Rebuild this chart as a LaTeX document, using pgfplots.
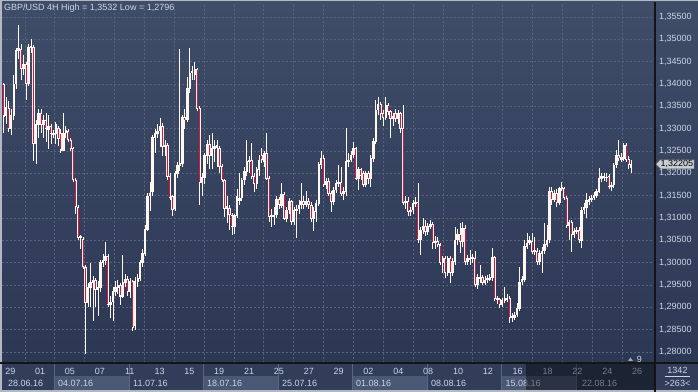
\documentclass[border=0pt]{standalone}
\usepackage{pgfplots}
\usepackage{pgfplotstable}
\pgfplotsset{compat=1.18}
\usepackage{fontspec}
\setmainfont{Liberation Sans}
\definecolor{bgtop}{HTML}{3F4D69}
\definecolor{bgbot}{HTML}{2C3754}
\definecolor{gridc}{HTML}{56637E}
\definecolor{txt}{HTML}{CBD5E6}
\definecolor{strip}{HTML}{313D59}
\definecolor{boxlight}{HTML}{4A5775}
\definecolor{sep}{HTML}{5A6682}
\definecolor{framec}{HTML}{B2B8C4}
\definecolor{bear}{HTML}{E3123D}
\definecolor{bull}{HTML}{FFF8F0}
\definecolor{pricebox}{HTML}{C9CDD4}
\newcommand\mtfont{\fontsize{9bp}{10.8bp}\selectfont}

\pgfplotstableread{
i O H L C
0 1.3400 1.3403 1.3290 1.3328
1 1.3330 1.3372 1.3310 1.3348
2 1.3345 1.3362 1.3292 1.3300
3 1.3300 1.3345 1.3285 1.3330
4 1.3330 1.3420 1.3320 1.3400
5 1.3400 1.3480 1.3390 1.3475
6 1.3475 1.3532 1.3455 1.3480
7 1.3478 1.3490 1.3410 1.3435
8 1.3435 1.3465 1.3420 1.3445
9 1.3445 1.3450 1.3365 1.3400
10 1.3400 1.3490 1.3395 1.3483
11 1.3483 1.3500 1.3470 1.3485
12 1.3483 1.3488 1.3227 1.3267
13 1.3267 1.3320 1.3220 1.3310
14 1.3310 1.3345 1.3280 1.3335
15 1.3335 1.3345 1.3290 1.3310
16 1.3310 1.3330 1.3280 1.3318
17 1.3318 1.3335 1.3270 1.3300
18 1.3298 1.3330 1.3255 1.3305
19 1.3305 1.3310 1.3265 1.3288
20 1.3288 1.3298 1.3278 1.3290
21 1.3288 1.3315 1.3265 1.3310
22 1.3300 1.3305 1.3262 1.3278
23 1.3290 1.3300 1.3245 1.3252
24 1.3252 1.3335 1.3250 1.3290
25 1.3290 1.3305 1.3280 1.3296
26 1.3294 1.3300 1.3270 1.3275
27 1.3275 1.3280 1.3250 1.3255
28 1.3255 1.3260 1.3180 1.3185
29 1.3185 1.3190 1.3110 1.3125
30 1.3125 1.3130 1.3050 1.3055
31 1.3055 1.3062 1.3030 1.3058
32 1.3052 1.3058 1.2985 1.2990
33 1.2990 1.2995 1.2796 1.2910
34 1.2910 1.2955 1.2900 1.2945
35 1.2945 1.3000 1.2900 1.2955
36 1.2955 1.2970 1.2870 1.2960
37 1.2960 1.2965 1.2900 1.2940
38 1.2940 1.2960 1.2880 1.2945
39 1.2945 1.3005 1.2935 1.3000
40 1.3000 1.3020 1.2990 1.3005
41 1.3005 1.3047 1.2995 1.3015
42 1.3015 1.3020 1.2900 1.2905
43 1.2905 1.2925 1.2875 1.2912
44 1.2912 1.2945 1.2870 1.2935
45 1.2935 1.2960 1.2925 1.2945
46 1.2945 1.2962 1.2930 1.2950
47 1.2950 1.2955 1.2905 1.2925
48 1.2925 1.3017 1.2920 1.2955
49 1.2955 1.2975 1.2945 1.2962
50 1.2962 1.2970 1.2925 1.2935
51 1.2935 1.2965 1.2920 1.2958
52 1.2958 1.2962 1.2848 1.2855
53 1.2860 1.2968 1.2850 1.2958
54 1.2958 1.2975 1.2945 1.2965
55 1.2965 1.3005 1.2960 1.3000
56 1.3000 1.3030 1.2990 1.3020
57 1.3020 1.3085 1.3015 1.3075
58 1.3075 1.3155 1.3070 1.3148
59 1.3150 1.3180 1.3115 1.3155
60 1.3160 1.3285 1.3150 1.3280
61 1.3280 1.3300 1.3245 1.3290
62 1.3290 1.3310 1.3280 1.3295
63 1.3295 1.3325 1.3260 1.3305
64 1.3305 1.3312 1.3240 1.3260
65 1.3260 1.3275 1.3240 1.3262
66 1.3262 1.3268 1.3185 1.3193
67 1.3193 1.3200 1.3140 1.3146
68 1.3148 1.3152 1.3105 1.3119
69 1.3120 1.3205 1.3115 1.3200
70 1.3200 1.3225 1.3190 1.3218
71 1.3218 1.3478 1.3205 1.3222
72 1.3222 1.3330 1.3215 1.3325
73 1.3325 1.3345 1.3300 1.3320
74 1.3320 1.3415 1.3315 1.3390
75 1.3390 1.3480 1.3380 1.3425
76 1.3425 1.3440 1.3410 1.3428
77 1.3420 1.3450 1.3410 1.3432
78 1.3432 1.3435 1.3340 1.3345
79 1.3345 1.3350 1.3129 1.3180
80 1.3180 1.3200 1.3150 1.3190
81 1.3190 1.3245 1.3175 1.3240
82 1.3240 1.3275 1.3220 1.3265
83 1.3265 1.3285 1.3210 1.3240
84 1.3240 1.3290 1.3210 1.3255
85 1.3255 1.3275 1.3225 1.3260
86 1.3258 1.3275 1.3215 1.3262
87 1.3255 1.3262 1.3200 1.3215
88 1.3215 1.3220 1.3180 1.3185
89 1.3185 1.3188 1.3103 1.3122
90 1.3122 1.3150 1.3088 1.3125
91 1.3122 1.3130 1.3073 1.3107
92 1.3107 1.3112 1.3062 1.3081
93 1.3081 1.3110 1.3065 1.3105
94 1.3105 1.3166 1.3100 1.3148
95 1.3140 1.3200 1.3130 1.3145
96 1.3145 1.3190 1.3138 1.3185
97 1.3185 1.3215 1.3175 1.3204
98 1.3204 1.3275 1.3195 1.3226
99 1.3226 1.3240 1.3200 1.3230
100 1.3230 1.3268 1.3188 1.3193
101 1.3193 1.3200 1.3159 1.3178
102 1.3178 1.3215 1.3165 1.3208
103 1.3208 1.3240 1.3195 1.3230
104 1.3241 1.3256 1.3222 1.3230
105 1.3226 1.3250 1.3215 1.3245
106 1.3245 1.3290 1.3185 1.3189
107 1.3189 1.3195 1.3092 1.3103
108 1.3103 1.3120 1.3080 1.3107
109 1.3103 1.3125 1.3085 1.3107
110 1.3107 1.3150 1.3100 1.3141
111 1.3141 1.3148 1.3120 1.3130
112 1.3128 1.3178 1.3122 1.3152
113 1.3152 1.3158 1.3095 1.3099
114 1.3099 1.3125 1.3090 1.3118
115 1.3118 1.3145 1.3110 1.3137
116 1.3137 1.3140 1.3085 1.3092
117 1.3092 1.3125 1.3085 1.3118
118 1.3118 1.3130 1.3055 1.3120
119 1.3120 1.3140 1.3110 1.3129
120 1.3129 1.3178 1.3120 1.3137
121 1.3137 1.3150 1.3120 1.3130
122 1.3130 1.3160 1.3125 1.3137
123 1.3137 1.3145 1.3120 1.3129
124 1.3129 1.3135 1.3090 1.3099
125 1.3099 1.3125 1.3070 1.3115
126 1.3115 1.3140 1.3090 1.3133
127 1.3133 1.3225 1.3128 1.3219
128 1.3219 1.3249 1.3210 1.3234
129 1.3234 1.3240 1.3170 1.3174
130 1.3174 1.3190 1.3165 1.3182
131 1.3182 1.3190 1.3150 1.3155
132 1.3155 1.3160 1.3114 1.3137
133 1.3137 1.3170 1.3130 1.3163
134 1.3163 1.3185 1.3155 1.3178
135 1.3178 1.3219 1.3170 1.3180
136 1.3180 1.3215 1.3150 1.3155
137 1.3155 1.3170 1.3140 1.3160
138 1.3160 1.3301 1.3150 1.3226
139 1.3226 1.3245 1.3215 1.3230
140 1.3230 1.3249 1.3225 1.3241
141 1.3241 1.3271 1.3235 1.3256
142 1.3256 1.3260 1.3185 1.3189
143 1.3189 1.3215 1.3163 1.3208
144 1.3208 1.3212 1.3185 1.3195
145 1.3200 1.3205 1.3170 1.3174
146 1.3174 1.3205 1.3170 1.3200
147 1.3200 1.3205 1.3175 1.3189
148 1.3189 1.3240 1.3170 1.3234
149 1.3234 1.3280 1.3225 1.3271
150 1.3271 1.3364 1.3265 1.3342
151 1.3342 1.3370 1.3330 1.3355
152 1.3355 1.3360 1.3320 1.3334
153 1.3334 1.3342 1.3305 1.3325
154 1.3325 1.3370 1.3320 1.3353
155 1.3353 1.3358 1.3330 1.3338
156 1.3338 1.3342 1.3280 1.3323
157 1.3323 1.3335 1.3305 1.3327
158 1.3334 1.3345 1.3315 1.3323
159 1.3323 1.3342 1.3310 1.3334
160 1.3334 1.3338 1.3290 1.3301
161 1.3301 1.3353 1.3130 1.3135
162 1.3135 1.3150 1.3120 1.3137
163 1.3137 1.3148 1.3105 1.3114
164 1.3114 1.3125 1.3105 1.3118
165 1.3118 1.3140 1.3110 1.3133
166 1.3133 1.3148 1.3125 1.3135
167 1.3135 1.3178 1.3045 1.3051
168 1.3051 1.3080 1.3017 1.3073
169 1.3073 1.3100 1.3065 1.3081
170 1.3081 1.3095 1.3060 1.3070
171 1.3070 1.3090 1.3062 1.3081
172 1.3081 1.3095 1.3075 1.3085
173 1.3085 1.3090 1.3030 1.3044
174 1.3044 1.3060 1.3030 1.3048
175 1.3048 1.3058 1.3035 1.3040
176 1.3040 1.3045 1.2995 1.3000
177 1.3000 1.3015 1.2977 1.3010
178 1.3010 1.3015 1.2965 1.2977
179 1.2977 1.3015 1.2970 1.3010
180 1.3010 1.3015 1.2954 1.2977
181 1.2977 1.3010 1.2970 1.3002
182 1.3002 1.3081 1.2995 1.3051
183 1.3051 1.3075 1.3040 1.3064
184 1.3064 1.3088 1.3021 1.3047
185 1.3047 1.3092 1.3035 1.3077
186 1.3077 1.3085 1.2995 1.3002
187 1.3002 1.3017 1.2995 1.3010
188 1.3008 1.3028 1.2995 1.3010
189 1.3008 1.3020 1.3000 1.3012
190 1.3010 1.3025 1.2945 1.2950
191 1.2950 1.2975 1.2940 1.2967
192 1.2965 1.2995 1.2955 1.2968
193 1.2968 1.2972 1.2950 1.2955
194 1.2955 1.2970 1.2950 1.2961
195 1.2961 1.2972 1.2955 1.2965
196 1.2963 1.2975 1.2958 1.2967
197 1.2967 1.3032 1.2960 1.3012
198 1.3012 1.3016 1.2915 1.2920
199 1.2918 1.2925 1.2908 1.2920
200 1.2918 1.2922 1.2898 1.2905
201 1.2905 1.2922 1.2900 1.2915
202 1.2915 1.2945 1.2910 1.2920
203 1.2918 1.2930 1.2912 1.2921
204 1.2920 1.2925 1.2865 1.2876
205 1.2876 1.2888 1.2868 1.2880
206 1.2878 1.2890 1.2872 1.2883
207 1.2883 1.2909 1.2878 1.2897
208 1.2897 1.2991 1.2892 1.2957
209 1.2957 1.2970 1.2950 1.2962
210 1.2962 1.3051 1.2957 1.3036
211 1.3036 1.3066 1.3030 1.3044
212 1.3044 1.3060 1.3040 1.3051
213 1.3047 1.3066 1.3020 1.3025
214 1.3025 1.3058 1.3018 1.3028
215 1.3025 1.3032 1.2995 1.3002
216 1.3002 1.3028 1.2995 1.3021
217 1.3021 1.3035 1.2977 1.3026
218 1.3026 1.3088 1.3020 1.3040
219 1.3040 1.3085 1.3035 1.3051
220 1.3051 1.3170 1.3045 1.3159
221 1.3159 1.3170 1.3130 1.3141
222 1.3141 1.3162 1.3135 1.3155
223 1.3155 1.3165 1.3125 1.3135
224 1.3135 1.3170 1.3130 1.3166
225 1.3166 1.3181 1.3160 1.3168
226 1.3166 1.3170 1.3140 1.3145
227 1.3145 1.3150 1.3078 1.3082
228 1.3082 1.3095 1.3051 1.3090
229 1.3090 1.3095 1.3023 1.3062
230 1.3062 1.3078 1.3055 1.3070
231 1.3070 1.3080 1.3065 1.3073
232 1.3073 1.3080 1.3045 1.3051
233 1.3049 1.3125 1.3032 1.3118
234 1.3118 1.3133 1.3110 1.3123
235 1.3123 1.3155 1.3100 1.3140
236 1.3136 1.3150 1.3130 1.3142
237 1.3142 1.3152 1.3135 1.3145
238 1.3145 1.3158 1.3140 1.3150
239 1.3150 1.3166 1.3145 1.3159
240 1.3159 1.3211 1.3155 1.3189
241 1.3189 1.3200 1.3180 1.3193
242 1.3190 1.3200 1.3182 1.3193
243 1.3190 1.3200 1.3180 1.3192
244 1.3193 1.3198 1.3165 1.3170
245 1.3170 1.3180 1.3160 1.3174
246 1.3174 1.3224 1.3168 1.3219
247 1.3219 1.3252 1.3212 1.3241
248 1.3241 1.3275 1.3228 1.3234
249 1.3230 1.3245 1.3225 1.3236
250 1.3234 1.3268 1.3228 1.3263
251 1.3263 1.3267 1.3225 1.3230
252 1.3232 1.3238 1.3210 1.3219
253 1.3212 1.3230 1.3200 1.3221
}\candles

\begin{document}
\begin{tikzpicture}
\useasboundingbox (0,0) rectangle (698bp,392bp);
\begin{scope}[x=1bp,y=-1bp,shift={(0bp,392bp)}]
  \fill[framec] (0,0) rectangle (698,392);
  \shade[top color=bgtop, bottom color=bgbot] (2,2) rectangle (698,363);
  \fill[strip] (2,363) rectangle (698,390);
  \foreach \a/\b in {54/129,203/278,352/427,501/576}
    \fill[boxlight] (\a,376.5) rectangle (\b,390);
  \foreach \a in {54,129,203,278,352,427,501,576}
    \draw[sep, line width=0.8bp] (\a,363) -- (\a,390);
\end{scope}

\begin{axis}[
  at={(2bp,29bp)}, anchor=south west,
  scale only axis, width=653bp, height=360bp,
  xmin=2, xmax=655, ymin=1.277537, ymax=1.358134,
  axis line style={draw=none},
  xtick={25,54.85,84.7,114.55,144.4,174.25,204.1,233.95,263.8,293.65,323.5,353.35,383.2,413.05,442.9,472.75,502.6,532.45,562.3,592.15,622},
  xticklabels={},
  ytick={1.28,1.285,1.29,1.295,1.3,1.305,1.31,1.315,1.32,1.325,1.33,1.335,1.34,1.345,1.35,1.355},
  xmajorgrids, ymajorgrids,
  major grid style={gridc, line width=0.8bp, dash pattern=on 2bp off 2bp},
  major tick length=0pt,
  yticklabel pos=right,
  yticklabel style={font=\mtfont, text=txt, anchor=west, inner sep=0pt, xshift=4bp},
  y tick label style={/pgf/number format/.cd, fixed, fixed zerofill, precision=5, use comma, 1000 sep={}, assume math mode=true},
  clip=true,
]
\addplot[draw=none, forget plot, error bars/.cd, y dir=both, y explicit, error mark=none,
  error bar style={draw=bull, line width=0.8bp}]
  table[x expr={3.8+2.48*\thisrow{i}}, y expr={(\thisrow{H}+\thisrow{L})/2}, y error expr={(\thisrow{H}-\thisrow{L})/2}] {\candles};
\addplot[draw=none, forget plot, error bars/.cd, y dir=both, y explicit, error mark=none,
  error bar style={draw=bull, line width=2.4bp}]
  table[x expr={3.8+2.48*\thisrow{i}}, y expr={(\thisrow{O}+\thisrow{C})/2}, y error expr={abs(\thisrow{O}-\thisrow{C})/2+0.00008}] {\candles};
\addplot[draw=none, forget plot, error bars/.cd, y dir=both, y explicit, error mark=none,
  error bar style={draw=bear, line width=1.0bp}]
  table[x expr={3.8+2.48*\thisrow{i}}, y expr={(\thisrow{O}+\thisrow{C})/2}, y error expr={max(0,(\thisrow{O}-\thisrow{C})/2-0.00015)}] {\candles};
\end{axis}

\begin{scope}[x=1bp,y=-1bp,shift={(0bp,392bp)}]
  \draw[black!92, line width=1.3bp] (0,363) -- (698,363);
  \draw[black!92, line width=1.3bp] (655,2) -- (655,392);
  % title
  \node[anchor=west, inner sep=0pt, font=\mtfont, text=txt] at (4,8.5) {GBP/USD 4H High = 1,3532 Low = 1,2796};
  % day labels
  \foreach \x/\t in {10.3/29,40.15/01,70/05,99.85/07,129.7/11,159.55/13,189.4/15,219.25/19,249.1/21,278.95/25,308.8/27,338.65/29,368.5/02,398.35/04,428.2/08,458.05/10,487.9/12,517.75/16,547.6/18,577.45/22,607.3/24,637.15/26}
    \node[inner sep=0pt, font=\mtfont, text=txt] at (\x,371) {\t};
  % date labels
  \foreach \x/\t in {8/28.06.16,58/04.07.16,133/11.07.16,207/18.07.16,282/25.07.16,356/01.08.16,431/08.08.16,505.5/15.08.16,582/22.08.16}
    \node[anchor=west, inner sep=0pt, font=\mtfont, text=txt] at (\x,383) {\t};
  % dimmed future area
  \fill[black, opacity=0.42] (526,364) rectangle (654.3,390);
  % marker near bottom right of plot
  \fill[gray!70] (628,361) -- (633,361) -- (630.5,357.5) -- cycle;
  \node[inner sep=0pt, font=\mtfont, text=txt] at (639.5,359) {9};
  % current price box
  \fill[pricebox, draw=gray!70!black, line width=0.4bp] (655.8,164.2) -- (660.3,159.6) -- (694,159.6) -- (694,168.8) -- (660.3,168.8) -- cycle;
  \node[anchor=west, inner sep=0pt, font=\mtfont, text=black] at (660.3,164.4) {1,32205};
  % bottom-right counters
  \node[inner sep=0pt, font=\mtfont, text=txt] at (677.5,370.5) {1342};
  \draw[txt, line width=0.6bp] (665,376.6) -- (690,376.6);
  \node[inner sep=0pt, font=\mtfont, text=txt] at (677.5,383) {>263<};
\end{scope}
\end{tikzpicture}
\end{document}
